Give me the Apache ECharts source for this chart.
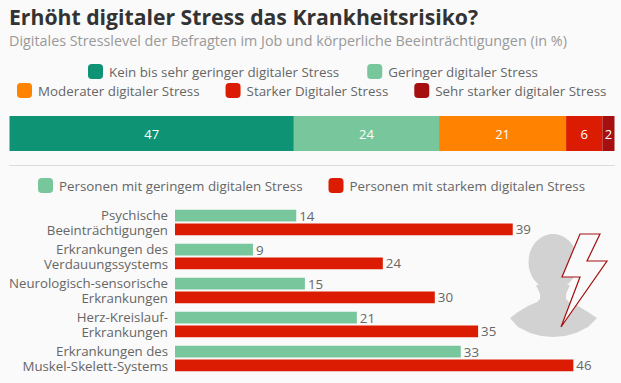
<!DOCTYPE html>
<html><head><meta charset="utf-8">
<style>html,body{margin:0;padding:0;background:#fafafa}#c{width:621px;height:383px}</style>
<script src="https://cdn.jsdelivr.net/npm/echarts@6/dist/echarts.min.js"></script>
</head><body><div id="c"></div>
<script>
const stressLevels = ['Kein bis sehr geringer digitaler Stress','Geringer digitaler Stress','Moderater digitaler Stress','Starker Digitaler Stress','Sehr starker digitaler Stress'];
const stressValues = [47,24,21,6,2];
const stressColors = ['#0e9474','#78c79c','#ff8300','#dc1c02','#a50f10'];
const conditions = ['Psychische\nBeeinträchtigungen','Erkrankungen des\nVerdauungssystems','Neurologisch-sensorische\nErkrankungen','Herz-Kreislauf-\nErkrankungen','Erkrankungen des\nMuskel-Skelett-Systems'];
const lowStressName = 'Personen mit geringem digitalen Stress';
const highStressName = 'Personen mit starkem digitalen Stress';
const lowStress = [14,9,15,21,33];
const highStress = [39,24,30,35,46];

const FONT = '"Open Sans", sans-serif';
const chart = echarts.init(document.getElementById('c'), null, {renderer:'svg'});
const legendBase = {orient:'horizontal', icon:'roundRect', itemWidth:15, itemHeight:15,
  textStyle:{fontFamily:FONT,fontSize:13.35,color:'#666',padding:[0,0,0,1]}, selectedMode:false, padding:0};

const stackSeries = stressLevels.map((n,i)=>({
  name:n,type:'bar',stack:'s',xAxisIndex:0,yAxisIndex:0,barWidth:'100%',
  data:[stressValues[i]],
  itemStyle:{color:stressColors[i]},
  label:{show:true,position:'inside',color:'#fff',fontFamily:FONT,fontSize:13,formatter:'{c}'}
}));
const sideBar = (name,data,color)=>({
  name,type:'bar',xAxisIndex:1,yAxisIndex:1,data,barWidth:11.8,barGap:'18%',
  itemStyle:{color},
  label:{show:true,position:'right',distance:3,color:'#666',fontFamily:FONT,fontSize:13.3,formatter:'{c}'}
});

chart.setOption({
  backgroundColor:'#fafafa',
  animation:false,
  title:[
    {text:'Erhöht digitaler Stress das Krankheitsrisiko?',left:9,top:6,padding:0,
     textStyle:{fontFamily:FONT,fontSize:21.2,fontWeight:'bold',color:'#333'}},
    {text:'Digitales Stresslevel der Befragten im Job und körperliche Beeinträchtigungen (in %)',left:9,top:33,padding:0,
     textStyle:{fontFamily:FONT,fontSize:14.35,fontWeight:'normal',color:'#999'}}
  ],
  legend:[
    {...legendBase,left:88,top:64,itemGap:28,data:stressLevels.slice(0,2)},
    {...legendBase,left:17,top:83,itemGap:26,data:stressLevels.slice(2)},
    {...legendBase,left:38,top:178,itemGap:26,data:[lowStressName,highStressName]}
  ],
  grid:[
    {left:9.5,top:116,width:605,height:35,containLabel:false},
    {left:175,top:205.5,width:433,height:170,containLabel:false}
  ],
  xAxis:[
    {type:'value',gridIndex:0,min:0,max:100,show:false},
    {type:'value',gridIndex:1,min:0,max:50,show:false}
  ],
  yAxis:[
    {type:'category',gridIndex:0,data:['Gesamt'],show:false},
    {type:'category',gridIndex:1,data:conditions,inverse:true,
     axisLine:{show:false},axisTick:{show:false},
     axisLabel:{margin:7,align:'right',fontFamily:FONT,fontSize:13.25,lineHeight:14.5,color:'#666'}}
  ],
  series:[...stackSeries,
    sideBar(lowStressName,lowStress,'#78c79c'),
    sideBar(highStressName,highStress,'#dc1c02')],
  graphic:[
    {type:'line',shape:{x1:9,y1:165.5,x2:615,y2:165.5},style:{stroke:'#dcdcdc',lineWidth:1}},
    {type:'ellipse',z:1,shape:{cx:553,cy:262,rx:24.5,ry:28},style:{fill:'#d2d2d2'}},
    {type:'polygon',z:1,shape:{points:[[510,318],[518,312],[528,306],[537,302],[540,299],[540,294],[536,285],[570,285],[566,294],[566,299],[569,302],[578,306],[588,312],[597,318],[588,327],[576,333],[565,336],[553,337],[541,336],[530,333],[518,327]]},style:{fill:'#d2d2d2'}},
    {type:'polygon',z:2,shape:{points:[[580,234],[600,234],[587,261],[607,261],[561,327],[580,277],[562,277]]},style:{fill:'#fafafa',stroke:'#a50f10',lineWidth:1.2}}
  ]
});
</script></body></html>
